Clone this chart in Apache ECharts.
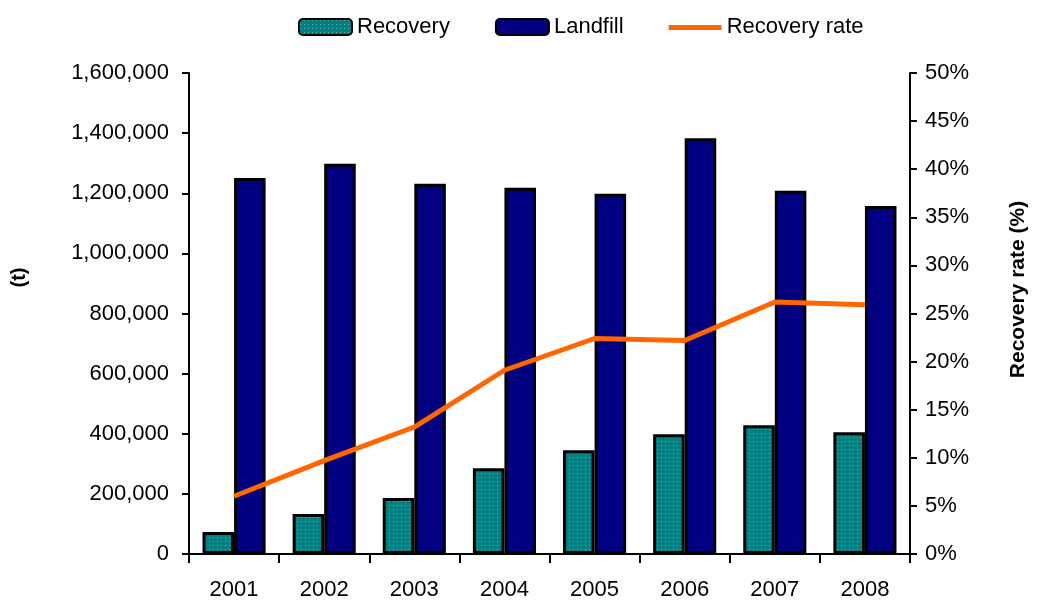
<!DOCTYPE html>
<html lang="en">
<head>
<meta charset="UTF-8">
<title>Recovery and landfill</title>
<script src="https://cdn.jsdelivr.net/npm/echarts@6/dist/echarts.min.js"></script>
<style>
  html, body { margin: 0; padding: 0; background: #fff; }
  #main { width: 1037px; height: 601px; }
</style>
</head>
<body>
<div id="main"></div>
<script>
var years = ['2001', '2002', '2003', '2004', '2005', '2006', '2007', '2008'];
var recovery = [73000, 133000, 186000, 285000, 345000, 398000, 428000, 405000];
var landfill = [1251000, 1298000, 1232000, 1218000, 1198000, 1383000, 1208000, 1158000];
var recoveryRate = [6.0, 9.7, 13.2, 19.1, 22.4, 22.2, 26.2, 25.9];

// dotted teal fill for the recovery bars
var dots = document.createElement('canvas');
dots.width = 4; dots.height = 4;
var c = dots.getContext('2d');
c.fillStyle = '#008080';
c.fillRect(0, 0, 4, 4);
c.fillStyle = '#5fb3b3';
c.fillRect(1, 1, 1, 1);

var font = 'Liberation Sans';
// thin bar in the middle of the legend box, for the line series
var lineIcon = 'path://M0,0L0,0M0,6L53,6L53,11L0,11ZM53,16L53,16';

var option = {
  animation: false,
  textStyle: { fontFamily: font },
  legend: {
    top: 11,
    left: 293,
    itemGap: 45,
    itemWidth: 53,
    itemHeight: 16,
    textStyle: { fontSize: 22, color: '#000', fontFamily: font },
    data: [
      { name: 'Recovery' },
      { name: 'Landfill' },
      { name: 'Recovery rate', icon: lineIcon }
    ]
  },
  grid: { left: 189, right: 124, top: 73, bottom: 46 },
  xAxis: {
    type: 'category',
    data: years,
    axisLine: { lineStyle: { color: '#000', width: 2 } },
    axisTick: { show: true, length: 9, lineStyle: { color: '#000', width: 2 } },
    axisLabel: { color: '#000', fontSize: 22, margin: 25 }
  },
  yAxis: [
    {
      type: 'value',
      min: 0, max: 1600000, interval: 200000,
      name: '(t)',
      nameLocation: 'middle',
      nameGap: 160,
      nameTextStyle: { fontSize: 20, fontWeight: 'bold', color: '#000', padding: [0, 0, 0, 72] },
      axisLine: { show: true, lineStyle: { color: '#000', width: 2 } },
      axisTick: { show: true, length: 7, lineStyle: { color: '#000', width: 2 } },
      axisLabel: {
        color: '#000', fontSize: 22, margin: 20,
        formatter: function (v) { return v.toLocaleString('en-US'); }
      },
      splitLine: { show: false }
    },
    {
      type: 'value',
      min: 0, max: 50, interval: 5,
      name: 'Recovery rate (%)',
      nameLocation: 'middle',
      nameGap: 98,
      nameRotate: 90,
      nameTextStyle: { fontSize: 21, fontWeight: 'bold', color: '#000', padding: [0, 0, 0, 48] },
      axisLine: { show: true, lineStyle: { color: '#000', width: 2 } },
      axisTick: { show: true, length: 7, lineStyle: { color: '#000', width: 2 } },
      axisLabel: { color: '#000', fontSize: 22, margin: 15, formatter: '{value}%' },
      splitLine: { show: false }
    }
  ],
  series: [
    {
      name: 'Recovery',
      type: 'bar',
      data: recovery,
      barGap: '0%',
      barCategoryGap: '30%',
      itemStyle: { color: { image: dots, repeat: 'repeat' }, borderColor: '#000', borderWidth: 3 }
    },
    {
      name: 'Landfill',
      type: 'bar',
      data: landfill,
      itemStyle: { color: '#000080', borderColor: '#000', borderWidth: 3 }
    },
    {
      name: 'Recovery rate',
      type: 'line',
      yAxisIndex: 1,
      data: recoveryRate,
      symbol: 'none',
      lineStyle: { color: '#ff6600', width: 5 },
      itemStyle: { color: '#ff6600' }
    }
  ]
};

var myChart = echarts.init(document.getElementById('main'));
myChart.setOption(option);
</script>
</body>
</html>
